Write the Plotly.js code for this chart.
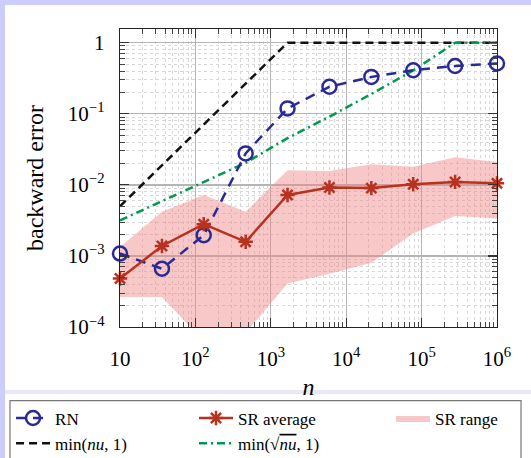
<!DOCTYPE html>
<html>
<head>
<meta charset="utf-8">
<script src="https://cdn.plot.ly/plotly-3.0.1.min.js"></script>
<style>html,body{margin:0;padding:0;background:#ccccff;}#chart{width:531px;height:458px;}</style>
</head>
<body>
<div id="chart"></div>
<script>
// problem sizes n
const n = [10, 36, 129, 464, 1668, 5995, 21544, 77426, 278256, 1000000];
// round-to-nearest backward error
const rnError = [1.08e-3, 6.6e-4, 1.96e-3, 0.0277, 0.119, 0.24, 0.33, 0.41, 0.47, 0.51];
// stochastic rounding average
const srAverage = [4.8e-4, 1.38e-3, 2.8e-3, 1.58e-3, 7.2e-3, 9.2e-3, 9.0e-3, 1.02e-2, 1.1e-2, 1.05e-2];
// stochastic rounding range (max / min)
const srMax = [1.34e-3, 4.2e-3, 7.2e-3, 4.2e-3, 0.0161, 0.0157, 0.0195, 0.018, 0.0245, 0.021];
const srMin = [2.65e-4, 2.65e-4, 6.3e-5, 8.3e-5, 4.1e-4, 5.6e-4, 8.0e-4, 2.07e-3, 3.66e-3, 3.36e-3];
// bounds
const boundNu = [5.0e-3, 0.0187, 0.0698, 0.261, 1, 1, 1, 1, 1, 1];
const boundSqrtNu = [3.16e-3, 5.9e-3, 0.011, 0.0204, 0.0455, 0.091, 0.19, 0.407, 1, 1];

// tick labels
const xTickVals = [10, 100, 1000, 10000, 100000, 1000000];
const xTickText = ['10', '10<sup>2</sup>', '10<sup>3</sup>', '10<sup>4</sup>', '10<sup>5</sup>', '10<sup>6</sup>'];
const yTickVals = [1, 0.1, 0.01, 0.001, 0.0001];
const yTickText = ['1', '10<sup>−1</sup>', '10<sup>−2</sup>', '10<sup>−3</sup>', '10<sup>−4</sup>'];

const serif = 'Liberation Serif, Times New Roman, serif';
const blue = '#2a2a96', red = '#b83220', green = '#009a4c';

const rangeX = n.concat(n.slice().reverse());
const rangeY = srMax.concat(srMin.slice().reverse());

const traces = [
  {x: rangeX, y: rangeY, name: 'SR range', mode: 'lines', fill: 'toself', legend: 'legend3',
   fillcolor: 'rgba(240,130,130,0.45)', line: {width: 0}, hoverinfo: 'skip'},
  {x: n, y: boundNu, name: 'min(<i>nu</i>, 1)', mode: 'lines', legend: 'legend', legendrank: 2,
   line: {color: '#111', width: 2.5, dash: '8px,5px'}},
  {x: n, y: boundSqrtNu, name: 'min(√<span style="text-decoration:overline"><i>nu</i></span>, 1)', mode: 'lines',
   legend: 'legend2', legendrank: 2,
   line: {color: green, width: 2.5, dash: '8px,4px,2px,4px'}},
  {x: n, y: rnError, name: 'RN', mode: 'lines+markers', cliponaxis: false, legend: 'legend', legendrank: 1,
   line: {color: blue, width: 2.5, dash: '10px,7px'},
   marker: {symbol: 'circle-open', size: 14, color: blue, line: {width: 2.5, color: blue}}},
  {x: n, y: srAverage, name: 'SR average', mode: 'lines+markers', cliponaxis: false, legend: 'legend2', legendrank: 1,
   line: {color: red, width: 2.5},
   marker: {symbol: 'asterisk-open', size: 12, color: red, line: {width: 2.5, color: red}}}
];

const axisCommon = {
  type: 'log', tickmode: 'array',
  ticks: 'inside', ticklen: 9, tickwidth: 1.2, tickcolor: '#333',
  showline: true, linecolor: '#222', linewidth: 1.3, mirror: 'allticks',
  showgrid: true, gridcolor: '#b5b5b5', gridwidth: 1.3, zeroline: false,
  tickfont: {family: serif, size: 21, color: '#000'},
  minor: {dtick: 'D1', ticks: 'inside', ticklen: 5, tickwidth: 1, tickcolor: '#444',
          showgrid: true, gridcolor: '#d8d8d8', gridwidth: 1, griddash: 'dot'}
};

const legendCommon = {
  orientation: 'v', y: -0.2466, xanchor: 'left', yanchor: 'top',
  bgcolor: 'rgba(0,0,0,0)', borderwidth: 0,
  font: {family: serif, size: 17, color: '#000'}, itemwidth: 34, tracegroupgap: 0
};

const layout = {
  width: 531, height: 458,
  paper_bgcolor: '#ccccff', plot_bgcolor: '#ffffff',
  margin: {l: 120, r: 34, t: 29, b: 131, pad: 0, autoexpand: false},
  showlegend: true,
  xaxis: Object.assign({}, axisCommon, {
    range: [1, 6], tickvals: xTickVals, ticktext: xTickText, ticklabelstandoff: 12,
    title: {text: '<i>n</i>', font: {family: serif, size: 24, color: '#000'}, standoff: 8}
  }),
  yaxis: Object.assign({}, axisCommon, {
    range: [-4, 0.193], tickvals: yTickVals, ticktext: yTickText, ticklabelstandoff: 10,
    title: {text: 'backward error', font: {family: serif, size: 24, color: '#000'}, standoff: 17}
  }),
  legend: Object.assign({}, legendCommon, {x: -0.289}),
  legend2: Object.assign({}, legendCommon, {x: 0.1963}),
  legend3: Object.assign({}, legendCommon, {x: 0.7188}),
  shapes: [
    {type: 'rect', xref: 'paper', yref: 'paper', x0: -0.305, x1: 1.2, y0: -0.2114, y1: 1.0805,
     fillcolor: '#ffffff', line: {width: 0}, layer: 'below'},
    {type: 'rect', xref: 'paper', yref: 'paper', x0: -0.305, x1: 1.2, y0: -0.2248, y1: -0.2114,
     fillcolor: '#e8e8fa', line: {width: 0}, layer: 'below'},
    {type: 'rect', xref: 'paper', yref: 'paper', x0: -0.305, x1: 1.2, y0: -0.6, y1: -0.2248,
     fillcolor: '#ffffff', line: {width: 0}, layer: 'below'},
    {type: 'rect', xref: 'paper', yref: 'paper', x0: -0.2918, x1: 1.0637, y0: -0.6, y1: -0.2473,
     fillcolor: 'rgba(0,0,0,0)', line: {width: 1.2, color: '#777'}, layer: 'below'}
  ]
};

Plotly.newPlot('chart', traces, layout, {displayModeBar: false, staticPlot: true});
</script>
</body>
</html>
